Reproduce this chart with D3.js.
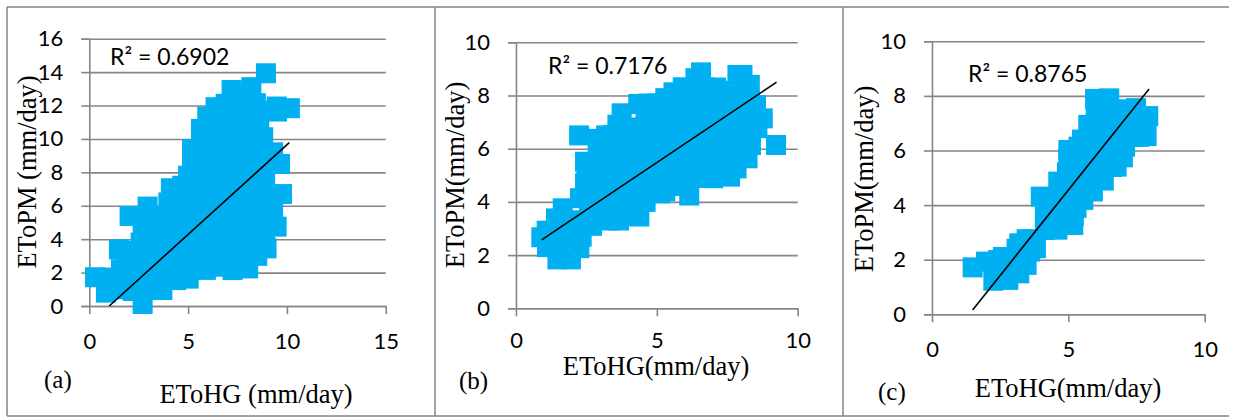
<!DOCTYPE html>
<html>
<head>
<meta charset="utf-8">
<script src="https://d3js.org/d3.v7.min.js"></script>
<style>
  html, body { margin: 0; padding: 0; background: #fff; }
  svg { display: block; }
</style>
</head>
<body>
<svg id="chart" width="1236" height="417"></svg>
<script>
// [ETo HG, ETo PM] pairs
const pointsA = [
  [0.29,1.72],[0.84,0.8],[1.1,1.7],[1.5,3.39],[1.5,1.0],[1.6,2.2],[1.9,1.5],[1.9,2.7],[2.04,5.39],[2.2,0.9],[2.2,2.1],[2.2,3.3],
  [2.6,1.6],[2.6,2.7],[2.6,3.8],[2.7,0.12],[2.7,4.4],[2.95,5.95],[2.9,1.0],[3,2],[3,3.1],[3,4.2],[3,4.9],[3.3,5.4],[3.4,1.5],[3.4,2.6],[3.4,3.7],[3.4,4.8],
  [3.7,0.96],[3.8,2.1],[3.8,3.2],[3.8,4.3],[3.8,5.4],[4,6.2],[4.13,7.05],[4.2,2],[4.2,3.1],[4.2,4.2],[4.2,5.3],[4.2,6.4],[4.4,1.55],
  [4.6,2.6],[4.6,3.7],[4.6,4.8],[4.6,5.9],[4.6,6.7],[4.7,7.2],[5,2.3],[5,3.4],[5,4.5],[5,5.6],[5,6.7],[5,7.8],[5.2,8.7],[5.03,1.64],[5.2,9.38],[5.3,7.9],
  [5.4,2.8],[5.4,3.9],[5.4,5],[5.4,6.1],[5.4,7.2],[5.65,10.6],[5.6,8.2],[5.7,9.2],[5.8,2.7],[5.8,3.8],[5.8,4.9],[5.8,6],[5.8,7.1],[5.8,8.2],[5.8,9.3],[5.8,10.4],
  [5.97,11.34],[5.9,2.16],[6.2,3.2],[6.2,4.3],[6.2,5.4],[6.2,6.5],[6.2,7.6],[6.2,8.7],[6.2,9.8],[6.2,10.8],
  [6.39,11.9],[6.64,2.35],[6.6,2.8],[6.6,3.9],[6.6,5],[6.6,6.1],[6.6,7.2],[6.6,8.3],[6.6,9.4],[6.6,10.5],[6.6,11.6],[6.9,12.1],
  [7.2,12.93],[7.25,2.15],[7,3.4],[7,4.5],[7,5.6],[7,6.7],[7,7.8],[7,8.9],[7,10],[7,11.1],[7,12],
  [7.5,2.9],[7.5,4],[7.5,5.1],[7.5,6.2],[7.5,7.3],[7.5,8.4],[7.5,9.5],[7.5,10.6],[7.5,11.7],[7.5,12.6],
  [8.04,2.25],[8,3.4],[8,4.5],[8,5.6],[8,6.7],[8,7.8],[8,8.9],[8,10],[8,11.1],[8,12],[8.2,13.1],[8.43,12.14],
  [8.5,3],[8.5,4],[8.5,5.1],[8.5,6.2],[8.5,7.3],[8.5,8.4],[8.5,9.5],[8.5,10.6],[8.5,11.7],
  [8.94,13.93],[8.97,3.45],[8.9,4.6],[8.9,5.7],[8.9,6.8],[8.9,7.9],[8.9,9],[8.8,10.1],[8.6,11],
  [9.48,11.94],[9.5,11.64],[9.48,4.75],[9.3,5.7],[9.75,6.7],[9.65,8.5],[9.3,9.2],[10.15,11.84]
];
const pointsB = [
  [0.9,2.67],[1.09,2.92],[1.1,2.3],[1.42,3.38],[1.47,1.84],[1.5,2.4],[1.5,3],[1.6,2.6],[1.66,3.76],[1.95,1.84],[2,2.6],[2,3.3],
  [2.24,6.5],[2.25,2.26],[2.27,4.14],[2.33,2.69],[2.4,3.3],[2.45,5.51],[2.45,4.7],[2.5,5.08],[2.6,3.5],[2.6,4],[2.7,3.1],[2.7,3.8],[2.8,4.5],[2.9,5.8],[2.9,3.4],[2.92,6.37],[3,5.5],[3,4],[3,5],
  [3.1,6.2],[3.2,3.7],[3.2,4.9],[3.2,5.8],[3.2,6.5],[3.3,3.3],[3.3,4.4],[3.3,5.3],[3.46,6.52],[3.6,3.6],[3.6,4.3],[3.6,5.2],[3.6,6.9],[3.66,3.3],[3.7,5.9],[3.75,7.33],[3.9,4],[3.9,4.6],[3.9,5.3],[3.9,6],[3.9,6.7],
  [4,4.7],[4.1,3.5],[4.2,5.4],[4.2,6.1],[4.3,6.8],[4.34,7.68],[4.38,3.45],[4.4,4.1],[4.6,4],[4.6,4.7],[4.6,5.4],[4.6,6.1],[4.6,6.8],[4.6,7.4],[4.7,7.7],
  [4.8,4.8],[4.9,5.5],[4.9,6.2],[4.9,7.3],[5,6.9],[5,7.7],[5.11,4.32],[5.3,4.4],[5.3,5.1],[5.3,5.8],[5.3,6.5],[5.3,7.2],[5.3,7.9],[5.3,7.6],[5.5,5],[5.59,4.6],[5.6,5.7],[5.6,6.4],[5.59,8.12],
  [5.7,7.1],[5.92,8.31],[6,4.7],[6,5.4],[6,6.1],[6,6.8],[6,7.5],[6,8.2],[6.15,4.24],[6.2,5],[6.3,5.7],[6.3,6.4],[6.3,7.1],[6.37,8.65],[6.4,7.8],[6.57,8.87],
  [6.7,4.9],[6.7,5.6],[6.7,6.3],[6.7,7],[6.7,7.7],[6.7,8.3],[7,4.89],[7,5.6],[7,6.3],[7,7],[7,7.7],[7.1,8.3],[7.36,8.18],
  [7.4,5],[7.4,5.7],[7.4,6.4],[7.4,7.1],[7.4,7.8],[7.6,4.95],[7.7,5.6],[7.7,6.3],[7.7,7],[7.7,7.7],
  [7.83,5.26],[7.86,8.77],[8,5.9],[8,6.6],[8,7.3],[8,8],[8.04,8.77],[8.1,8.23],[8.22,5.64],[8.3,6.4],[8.3,7.1],[8.3,7.8],[8.3,8.4],[8.34,6.14],[8.52,7.64],[8.57,6.77],[8.76,7.14],[9.23,6.14]
];
const pointsC = [
  [1.49,1.72],[1.98,1.93],[2.25,1.23],[2.3,1.7],[2.43,1.99],[2.6,1.5],[2.6,2.1],[2.8,1.26],[2.9,1.7],[3,2],[3.1,2.4],[3.2,2.6],[3.2,1.5],[3.3,2.1],[3.47,2.75],[3.47,1.81],
  [3.5,2.4],[3.6,2.3],[3.7,2.75],[3.81,2.42],[3.99,4.31],[4.14,3.09],[4.14,3.58],[4.3,4],[4.4,3.7],[4.4,3.3],[4.5,4.3],[4.63,4.86],[4.6,3.1],[4.7,3.6],[4.7,4.4],[4.95,5.2],[4.9,4.3],
  [5,6.02],[5,5.2],[5,5.7],[5,4.6],[5,3.9],[5.18,3.27],[5.2,3.6],[5.2,4.4],[5.3,3.9],[5.37,6.14],[5.3,5.4],[5.4,5],[5.5,5.5],[5.5,6.4],[5.55,4.19],[5.6,4.9],[5.73,6.94],[5.7,5.6],
  [5.8,6.2],[5.9,4.5],[5.9,5.1],[5.9,6.9],[5.98,7.89],[6,7.2],[6,5.9],[6.1,5.4],[6.1,6.5],[6.1,7.5],[6.3,4.9],[6.3,6],[6.4,6.7],[6.5,7.91],[6.5,7.3],[6.6,5.4],[6.6,6.2],[6.7,6.9],
  [6.77,5.41],[6.8,7.5],[6.9,6.2],[7,5.75],[7,6.9],[7.08,6.14],[7.1,7.5],[7.2,7],[7.3,6.5],[7.48,7.55],[7.5,6.9],[7.6,6.5],[7.6,7.2],[7.87,6.53],[7.93,7.26]
];

const yTicksA = [0, 2, 4, 6, 8, 10, 12, 14, 16];
const yTicksShort = [0, 2, 4, 6, 8, 10];
const xTicksA = [0, 5, 10, 15];
const xTicksShort = [0, 5, 10];

// trend line ends
const trendA = [[1.01, 0], [10.12, 9.78]];
const trendB = [[0.91, 2.57], [9.25, 8.5]];
const trendC = [[1.49, 0.16], [7.96, 8.25]];

const svg = d3.select('#chart');
const grey = '#868686';
const blue = '#00b0f0';
const markerSize = 20;
const sansFont = 'Lato, "Open Sans", sans-serif';
const serifFont = '"Liberation Serif", serif';

function drawPanel(p) {
  const xScale = d3.scaleLinear().domain(p.xDomain).range([p.left, p.right]);
  const yScale = d3.scaleLinear().domain(p.yDomain).range([p.bottom, p.top]);

  // horizontal gridlines + left ticks come from the y axis
  const yAxis = svg.append('g')
    .attr('transform', `translate(${p.left},0)`)
    .call(d3.axisLeft(yScale).tickValues(p.yTicks).tickSize(8).tickPadding(18));
  yAxis.selectAll('.tick').append('line')
    .attr('x1', 0).attr('x2', p.right - p.left);

  const xAxis = svg.append('g')
    .attr('transform', `translate(0,${p.bottom})`)
    .call(d3.axisBottom(xScale).tickValues(p.xTicks).tickSize(8).tickPadding(p.xPad).tickSizeOuter(0));

  [yAxis, xAxis].forEach((axis) => {
    axis.selectAll('line, path').attr('stroke', grey).attr('stroke-width', 1.6);
    axis.selectAll('text')
      .attr('fill', '#000')
      .style('font-family', sansFont)
      .style('font-size', '22px');
  });

  svg.append('g').selectAll('rect')
    .data(p.points)
    .enter()
    .append('rect')
    .attr('x', (d) => xScale(d[0]) - markerSize / 2)
    .attr('y', (d) => yScale(d[1]) - markerSize / 2)
    .attr('width', markerSize)
    .attr('height', markerSize)
    .attr('fill', blue);

  svg.append('path')
    .attr('d', d3.line().x((d) => xScale(d[0])).y((d) => yScale(d[1]))(p.trend))
    .attr('fill', 'none')
    .attr('stroke', '#000')
    .attr('stroke-width', 1.6);

  svg.append('text')
    .attr('x', p.r2x).attr('y', p.r2y)
    .style('font-family', sansFont).style('font-size', '23px')
    .text(p.r2);

  svg.append('text')
    .attr('x', p.xLabelX).attr('y', p.xLabelY)
    .attr('text-anchor', 'middle')
    .style('font-family', serifFont).style('font-size', '26.5px')
    .text(p.xLabel);

  svg.append('text')
    .attr('transform', `translate(${p.yLabelX},${p.yLabelY}) rotate(-90)`)
    .attr('text-anchor', 'middle')
    .style('font-family', serifFont).style('font-size', '26.5px')
    .text(p.yLabel);

  svg.append('text')
    .attr('x', p.tagX).attr('y', p.tagY)
    .style('font-family', serifFont).style('font-size', '25px')
    .text(p.tag);
}

// outer frame and dividers
[[7, 7, 1229, 7], [7, 416, 1229, 416], [7, 7, 7, 416], [435, 7, 435, 416], [843, 7, 843, 416]].forEach((l) => {
  svg.append('line')
    .attr('x1', l[0]).attr('y1', l[1]).attr('x2', l[2]).attr('y2', l[3])
    .attr('stroke', grey).attr('stroke-width', 1.5);
});

drawPanel({
  points: pointsA, trend: trendA, xDomain: [0, 15], yDomain: [0, 16], xTicks: xTicksA, yTicks: yTicksA,
  left: 89.3, right: 385.7, top: 38.7, bottom: 306, xPad: 19,
  r2: 'R² = 0.6902', r2x: 110, r2y: 65,
  xLabel: 'EToHG (mm/day)', xLabelX: 256, xLabelY: 403,
  yLabel: 'EToPM (mm/day)', yLabelX: 36, yLabelY: 172,
  tag: '(a)', tagX: 44, tagY: 388
});
drawPanel({
  points: pointsB, trend: trendB, xDomain: [0, 10], yDomain: [0, 10], xTicks: xTicksShort, yTicks: yTicksShort,
  left: 516, right: 797.7, top: 42.3, bottom: 308.3, xPad: 16,
  r2: 'R² = 0.7176', r2x: 548, r2y: 74,
  xLabel: 'EToHG(mm/day)', xLabelX: 656, xLabelY: 375,
  yLabel: 'EToPM(mm/day)', yLabelX: 464, yLabelY: 175,
  tag: '(b)', tagX: 459, tagY: 389
});
drawPanel({
  points: pointsC, trend: trendC, xDomain: [0, 10], yDomain: [0, 10], xTicks: xTicksShort, yTicks: yTicksShort,
  left: 932, right: 1204.7, top: 41.3, bottom: 314.3, xPad: 19,
  r2: 'R² = 0.8765', r2x: 968, r2y: 82,
  xLabel: 'EToHG(mm/day)', xLabelX: 1068, xLabelY: 397,
  yLabel: 'EToPM(mm/day)', yLabelX: 873, yLabelY: 179,
  tag: '(c)', tagX: 878, tagY: 400
});
</script>
</body>
</html>
